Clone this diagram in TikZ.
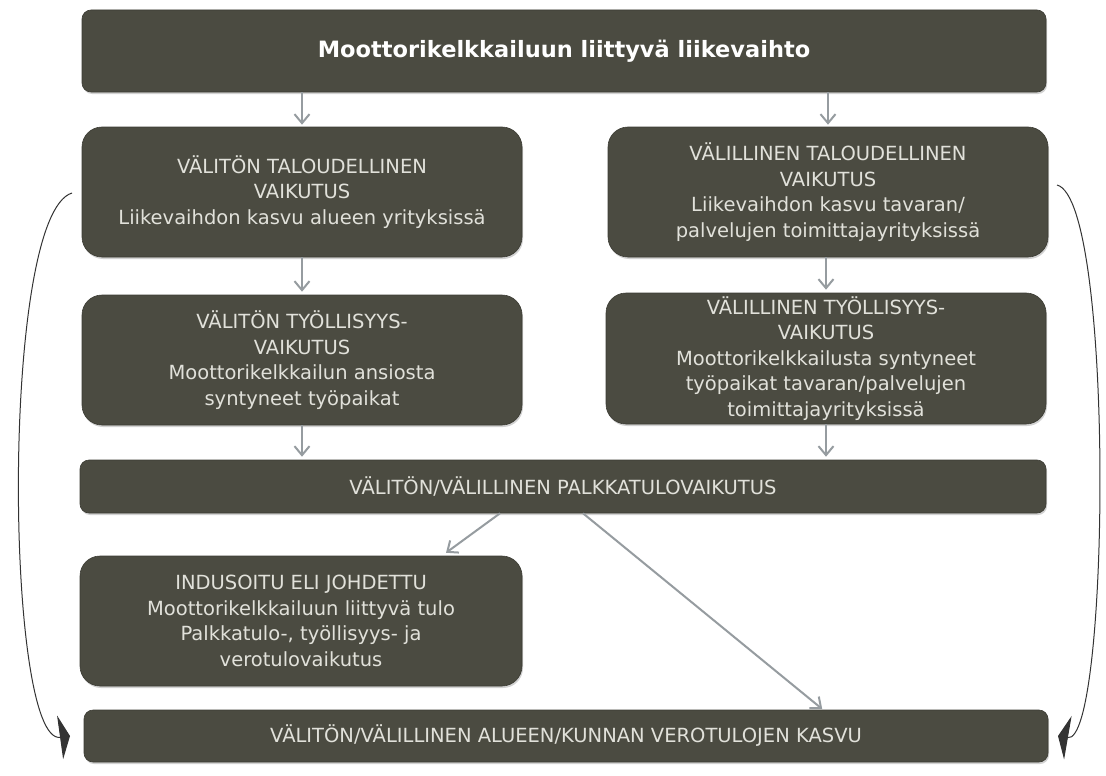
\documentclass[tikz,border=0pt]{standalone}
\usepackage{fontspec}
\setmainfont{DejaVu Sans}
\usetikzlibrary{arrows.meta,shadows}
\definecolor{boxfill}{RGB}{75,75,65}
\definecolor{boxtext}{RGB}{225,225,218}
\definecolor{arrgray}{RGB}{150,156,160}
\begin{document}
\begin{tikzpicture}[x=1pt,y=-1pt,
  box/.style={draw=boxfill!80!black,line width=0.6pt,fill=boxfill,text=boxtext,align=center,
    rounded corners=20pt,inner sep=0pt,font=\fontsize{19.5}{25.5}\selectfont,
    drop shadow={opacity=0.35,shadow xshift=1pt,shadow yshift=-2pt}},
  flat/.style={box,rounded corners=9pt},
  garrow/.style={draw=arrgray,line width=2pt,-{Straight Barb[length=9pt,width=15pt,line width=2pt]}},
  karrow/.style={draw=black!80,line width=1pt,-{Triangle[length=10pt,width=44pt]}}]
\useasboundingbox (0,0) rectangle (1106,776);
\fill[white] (0,0) rectangle (1106,776);

\node[flat,minimum width=964pt,minimum height=82pt,text=white,font=\fontsize{22.5}{27}\selectfont\bfseries] (top) at (564,51) {Moottorikelkkailuun liittyvä liikevaihto};

\node[box,minimum width=440pt,minimum height=130pt] (l1) at (302,192)
  {VÄLITÖN TALOUDELLINEN\\VAIKUTUS\\Liikevaihdon kasvu alueen yrityksissä};
\node[box,minimum width=440pt,minimum height=130pt] (r1) at (828,192)
  {VÄLILLINEN TALOUDELLINEN\\VAIKUTUS\\Liikevaihdon kasvu tavaran/\\palvelujen toimittajayrityksissä};
\node[box,minimum width=440pt,minimum height=130pt] (l2) at (302,360)
  {VÄLITÖN TYÖLLISYYS-\\VAIKUTUS\\Moottorikelkkailun ansiosta\\syntyneet työpaikat};
\node[box,minimum width=440pt,minimum height=131pt] (r2) at (826,358.5)
  {VÄLILLINEN TYÖLLISYYS-\\VAIKUTUS\\Moottorikelkkailusta syntyneet\\työpaikat tavaran/palvelujen\\toimittajayrityksissä};
\node[flat,minimum width=966pt,minimum height=53pt] (palk) at (563,486.5)
  {VÄLITÖN/VÄLILLINEN PALKKATULOVAIKUTUS};
\node[box,minimum width=442pt,minimum height=130pt] (ind) at (301,621)
  {INDUSOITU ELI JOHDETTU\\Moottorikelkkailuun liittyvä tulo\\Palkkatulo-, työllisyys- ja\\verotulovaikutus};
\node[flat,minimum width=964pt,minimum height=52pt] (bot) at (566,736)
  {VÄLITÖN/VÄLILLINEN ALUEEN/KUNNAN VEROTULOJEN KASVU};

% vertical arrows
\draw[garrow,shorten >=2pt] (top.south -| l1.north) -- (l1.north);
\draw[garrow,shorten >=2pt] (top.south -| r1.north) -- (r1.north);
\draw[garrow,shorten >=3pt] (l1.south) -- (l2.north);
\draw[garrow,shorten >=3pt] (r1.south -| r2.north) -- (r2.north);
\draw[garrow,shorten >=3pt] (l2.south) -- (palk.north -| l2.south);
\draw[garrow,shorten >=3pt] (r2.south) -- (palk.north -| r2.south);

% diagonal arrows
\coordinate (pk1) at (palk.south -| 500,0);
\coordinate (in1) at (ind.north -| 442,0);
\draw[garrow,shorten >=5pt] (pk1) -- (in1);
\coordinate (pk2) at (palk.south -| 583,0);
\coordinate (bt1) at (bot.north -| 823,0);
\draw[garrow,shorten >=1pt] (pk2) -- (bt1);

% side curved arrows
\coordinate (lc1) at (72,193);
\coordinate (lc2) at (bot.west -| 70,0);
\draw[karrow] (lc1) .. controls (0,215) and (5,745) .. (lc2);
\coordinate (rc1) at (1057,185);
\coordinate (rc2) at (bot.east -| 1058,0);
\draw[karrow] (rc1) .. controls (1115,200) and (1110,745) .. (rc2);
\end{tikzpicture}
\end{document}
